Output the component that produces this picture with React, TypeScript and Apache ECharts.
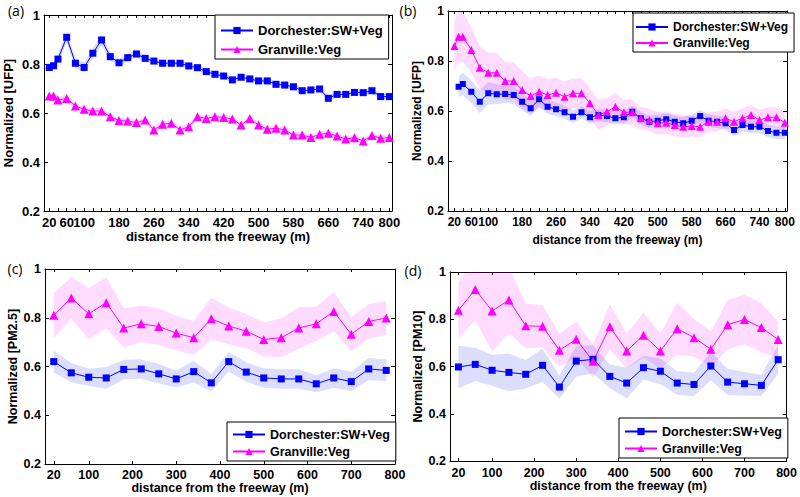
import React, { useEffect, useRef } from 'react';
import * as echarts from 'echarts';

// ---------- data ----------
const distAB = [20, 30, 40, 60, 80, 100, 120, 140, 160, 180, 200, 220, 240, 260, 280, 300, 320, 340, 360, 380, 400, 420, 440, 460, 480, 500, 520, 540, 560, 580, 600, 620, 640, 660, 680, 700, 720, 740, 760, 780, 800];
const distBBlue = [30, 40, 60, 80, 100, 120, 140, 160, 180, 200, 220, 240, 260, 280, 300, 320, 340, 360, 380, 400, 420, 440, 460, 480, 500, 520, 540, 560, 580, 600, 620, 640, 660, 680, 700, 720, 740, 760, 780, 800];
const distCD = [20, 60, 100, 140, 180, 220, 260, 300, 340, 380, 420, 460, 500, 540, 580, 620, 660, 700, 740, 780];

const tickValuesAB = [20, 40, 60, 80, 100, 120, 140, 160, 180, 200, 220, 240, 260, 280, 300, 320, 340, 360, 380, 400, 420, 440, 460, 480, 500, 520, 540, 560, 580, 600, 620, 640, 660, 680, 700, 720, 740, 760, 780, 800];
const labelValuesAB = [20, 60, 100, 180, 260, 340, 420, 500, 580, 660, 740, 800];
const labelValuesCD = [20, 100, 200, 300, 400, 500, 600, 700, 800];

// (a) UFP, Dorchester & Granville
const aBlue = [0.786, 0.793, 0.82, 0.909, 0.803, 0.786, 0.844, 0.898, 0.83, 0.805, 0.826, 0.841, 0.823, 0.812, 0.803, 0.803, 0.803, 0.792, 0.785, 0.769, 0.758, 0.751, 0.735, 0.746, 0.739, 0.731, 0.731, 0.717, 0.714, 0.707, 0.691, 0.694, 0.698, 0.66, 0.676, 0.676, 0.684, 0.683, 0.691, 0.667, 0.667];
const aBlueErr = [0.015, 0.015, 0.018, 0.022, 0.02, 0.02, 0.02, 0.022, 0.018, 0.015, 0.015, 0.015, 0.014, 0.013, 0.012, 0.012, 0.012, 0.012, 0.012, 0.012, 0.012, 0.012, 0.012, 0.012, 0.012, 0.012, 0.012, 0.012, 0.012, 0.012, 0.012, 0.012, 0.012, 0.012, 0.012, 0.012, 0.012, 0.012, 0.012, 0.012, 0.012];
const aPink = [0.669, 0.669, 0.653, 0.659, 0.629, 0.615, 0.608, 0.608, 0.585, 0.569, 0.567, 0.561, 0.571, 0.531, 0.554, 0.558, 0.531, 0.544, 0.585, 0.578, 0.585, 0.582, 0.576, 0.551, 0.578, 0.551, 0.534, 0.538, 0.531, 0.51, 0.51, 0.5, 0.513, 0.517, 0.506, 0.494, 0.499, 0.486, 0.508, 0.497, 0.5];
const aPinkErr = [0.015, 0.015, 0.014, 0.014, 0.013, 0.012, 0.012, 0.012, 0.012, 0.012, 0.012, 0.012, 0.012, 0.012, 0.012, 0.012, 0.012, 0.012, 0.012, 0.012, 0.012, 0.012, 0.012, 0.012, 0.012, 0.012, 0.012, 0.012, 0.012, 0.012, 0.012, 0.012, 0.012, 0.012, 0.012, 0.012, 0.012, 0.012, 0.012, 0.012, 0.012];

// (b) UFP
const bBlue = [0.697, 0.708, 0.677, 0.637, 0.671, 0.667, 0.668, 0.664, 0.637, 0.611, 0.647, 0.617, 0.607, 0.595, 0.577, 0.595, 0.575, 0.584, 0.58, 0.571, 0.575, 0.597, 0.571, 0.557, 0.561, 0.567, 0.557, 0.551, 0.561, 0.58, 0.561, 0.557, 0.551, 0.524, 0.544, 0.537, 0.537, 0.52, 0.513, 0.513];
const bBlueErr = [0.04, 0.045, 0.045, 0.045, 0.045, 0.04, 0.035, 0.035, 0.035, 0.03, 0.03, 0.028, 0.028, 0.027, 0.025, 0.025, 0.025, 0.025, 0.025, 0.025, 0.025, 0.025, 0.025, 0.025, 0.025, 0.025, 0.025, 0.025, 0.025, 0.025, 0.025, 0.025, 0.025, 0.025, 0.025, 0.025, 0.025, 0.025, 0.025, 0.025];
const bPink = [0.86, 0.897, 0.897, 0.844, 0.773, 0.753, 0.753, 0.72, 0.72, 0.684, 0.66, 0.677, 0.664, 0.673, 0.657, 0.671, 0.671, 0.631, 0.584, 0.597, 0.617, 0.595, 0.595, 0.571, 0.564, 0.551, 0.553, 0.544, 0.537, 0.54, 0.537, 0.557, 0.557, 0.571, 0.557, 0.571, 0.584, 0.564, 0.575, 0.575, 0.553];
const bPinkErr = [0.1, 0.1, 0.1, 0.09, 0.085, 0.08, 0.08, 0.075, 0.075, 0.075, 0.07, 0.065, 0.065, 0.06, 0.06, 0.06, 0.06, 0.06, 0.06, 0.055, 0.055, 0.05, 0.05, 0.045, 0.045, 0.045, 0.045, 0.045, 0.045, 0.042, 0.042, 0.04, 0.04, 0.04, 0.04, 0.04, 0.04, 0.04, 0.04, 0.04, 0.04];

// (c) PM2.5
const cBlue = [0.62, 0.574, 0.556, 0.553, 0.588, 0.59, 0.57, 0.549, 0.579, 0.533, 0.62, 0.577, 0.553, 0.549, 0.549, 0.529, 0.553, 0.538, 0.59, 0.584];
const cBlueErr = [0.045, 0.04, 0.035, 0.045, 0.04, 0.04, 0.04, 0.035, 0.045, 0.035, 0.04, 0.04, 0.04, 0.04, 0.04, 0.035, 0.04, 0.04, 0.045, 0.045];
const cPink = [0.81, 0.881, 0.816, 0.862, 0.758, 0.775, 0.764, 0.737, 0.718, 0.796, 0.766, 0.745, 0.711, 0.718, 0.758, 0.775, 0.826, 0.732, 0.785, 0.799];
const cPinkErr = [0.093, 0.085, 0.105, 0.105, 0.08, 0.075, 0.075, 0.07, 0.07, 0.085, 0.075, 0.07, 0.07, 0.08, 0.085, 0.07, 0.08, 0.07, 0.07, 0.07];

// (d) PM10
const dBlue = [0.598, 0.609, 0.584, 0.575, 0.567, 0.605, 0.513, 0.623, 0.63, 0.558, 0.53, 0.595, 0.58, 0.53, 0.524, 0.602, 0.534, 0.527, 0.52, 0.629];
const dBlueErr = [0.09, 0.07, 0.065, 0.08, 0.06, 0.07, 0.05, 0.065, 0.06, 0.05, 0.065, 0.05, 0.055, 0.05, 0.05, 0.06, 0.055, 0.05, 0.045, 0.06];
const dPink = [0.838, 0.926, 0.835, 0.881, 0.772, 0.77, 0.669, 0.715, 0.622, 0.768, 0.666, 0.732, 0.666, 0.76, 0.722, 0.673, 0.777, 0.799, 0.765, 0.714];
const dPinkErr = [0.12, 0.13, 0.17, 0.14, 0.095, 0.09, 0.07, 0.075, 0.07, 0.095, 0.075, 0.095, 0.075, 0.11, 0.08, 0.075, 0.105, 0.105, 0.105, 0.075];

const NAME_BLUE = 'Dorchester:SW+Veg';
const NAME_PINK = 'Granville:Veg';
const XNAME = 'distance from the freeway (m)';
const YNAMES = ['Normalized [UFP]', 'Normalized [UFP]', 'Normalized [PM2.5]', 'Normalized [PM10]'];
const PANEL_LABELS = ['(a)', '(b)', '(c)', '(d)'];

// ---------- styling ----------
const FONT = '"Liberation Sans", Arial, sans-serif';
const BLUE = '#0000ff';
const PINK = '#ff00ff';
const BLUE_BAND = 'rgba(40,60,235,0.17)';
const PINK_BAND = 'rgba(255,0,255,0.14)';

type PanelCfg = {
  grid: { left: number; top: number; width: number; height: number };
  xmin: number; xmax: number;
  ticks: number[]; labels: number[];
  fs: number; xNameGap: number; yNameGap: number; labelMargin: number;
  legend: { left: number; top: number; gap: number; padding: number[]; fs: number };
};

const panels: PanelCfg[] = [
  { grid: { left: 44, top: 15, width: 348, height: 196 }, xmin: 8, xmax: 806, ticks: tickValuesAB, labels: labelValuesAB, fs: 13, xNameGap: 18, yNameGap: 29, labelMargin: 5,
    legend: { left: 215, top: 15, gap: 5, padding: [9, 6, 3, 5], fs: 13 } },
  { grid: { left: 448, top: 11, width: 339, height: 200 }, xmin: 5, xmax: 805, ticks: tickValuesAB, labels: labelValuesAB, fs: 12, xNameGap: 23, yNameGap: 22, labelMargin: 5,
    legend: { left: 633, top: 13, gap: 3, padding: [8, 6, 3, 2], fs: 12 } },
  { grid: { left: 45, top: 269, width: 350, height: 195 }, xmin: 0, xmax: 800, ticks: labelValuesCD, labels: labelValuesCD, fs: 12.5, xNameGap: 16, yNameGap: 26, labelMargin: 4,
    legend: { left: 227, top: 422, gap: 3, padding: [6, 6, 3, 5], fs: 12.5 } },
  { grid: { left: 450, top: 272, width: 339, height: 189 }, xmin: 0, xmax: 800, ticks: labelValuesCD, labels: labelValuesCD, fs: 12.5, xNameGap: 16, yNameGap: 25, labelMargin: 5,
    legend: { left: 619, top: 418, gap: 3, padding: [7, 6, 3, 5], fs: 12.5 } },
];

const seriesData = [
  { bx: distAB, by: aBlue, be: aBlueErr, px: distAB, py: aPink, pe: aPinkErr },
  { bx: distBBlue, by: bBlue, be: bBlueErr, px: distAB, py: bPink, pe: bPinkErr },
  { bx: distCD, by: cBlue, be: cBlueErr, px: distCD, py: cPink, pe: cPinkErr },
  { bx: distCD, by: dBlue, be: dBlueErr, px: distCD, py: dPink, pe: dPinkErr },
];

function bandSeries(xs: number[], ys: number[], errs: number[], gi: number, color: string) {
  return {
    type: 'custom',
    xAxisIndex: 2 * gi,
    yAxisIndex: 2 * gi,
    silent: true,
    z: 1,
    data: xs.map((x, i) => [x, ys[i]]),
    encode: { x: 0, y: 1 },
    renderItem: (params: any, api: any) => {
      if (params.dataIndex !== 0) return null;
      const upper = xs.map((x, i) => api.coord([x, ys[i] + errs[i]]));
      const lower = xs.map((x, i) => api.coord([x, ys[i] - errs[i]])).reverse();
      const cs = params.coordSys;
      return {
        type: 'polygon',
        shape: { points: upper.concat(lower) },
        style: { fill: color },
        clipPath: { type: 'rect', shape: { x: cs.x, y: cs.y, width: cs.width, height: cs.height } },
      };
    },
  };
}

function lineSeries(name: string, xs: number[], ys: number[], gi: number, color: string, symbol: string, size: number) {
  return {
    type: 'line',
    name,
    xAxisIndex: 2 * gi,
    yAxisIndex: 2 * gi,
    data: xs.map((x, i) => [x, ys[i]]),
    symbol,
    symbolSize: size,
    showAllSymbol: true,
    lineStyle: { color, width: 1 },
    itemStyle: { color, borderWidth: 0 },
    z: 3,
  };
}

function buildOption() {
  const grid: any[] = [];
  const xAxis: any[] = [];
  const yAxis: any[] = [];
  const series: any[] = [];
  const legend: any[] = [];
  const graphic: any[] = [];
  const axisLine = { show: true, onZero: false, lineStyle: { color: '#000', width: 1 } };

  panels.forEach((p, gi) => {
    grid.push({ ...p.grid, containLabel: false });
    const labelStyle = { fontFamily: FONT, fontWeight: 'bold', fontSize: p.fs, color: '#000' };
    xAxis.push({
      type: 'value', gridIndex: gi, min: p.xmin, max: p.xmax, position: 'bottom',
      axisLine, splitLine: { show: false },
      axisTick: { show: true, inside: true, length: 3, customValues: p.ticks, lineStyle: { color: '#000' } },
      axisLabel: { ...labelStyle, margin: p.labelMargin, customValues: p.labels },
      name: XNAME, nameLocation: 'middle', nameGap: p.xNameGap, nameTextStyle: labelStyle,
    });
    xAxis.push({
      type: 'value', gridIndex: gi, min: p.xmin, max: p.xmax, position: 'top',
      axisLine, splitLine: { show: false },
      axisTick: { show: true, inside: true, length: 3, customValues: p.ticks, lineStyle: { color: '#000' } },
      axisLabel: { show: false },
    });
    yAxis.push({
      type: 'value', gridIndex: gi, min: 0.2, max: 1, interval: 0.2, position: 'left',
      axisLine, splitLine: { show: false },
      axisTick: { show: true, inside: true, length: 4, lineStyle: { color: '#000' } },
      axisLabel: { ...labelStyle, margin: 4 },
      name: YNAMES[gi], nameLocation: 'middle', nameGap: p.yNameGap, nameTextStyle: labelStyle,
    });
    yAxis.push({
      type: 'value', gridIndex: gi, min: 0.2, max: 1, interval: 0.2, position: 'right',
      axisLine, splitLine: { show: false },
      axisTick: { show: true, inside: true, length: 4, lineStyle: { color: '#000' } },
      axisLabel: { show: false },
    });

    const d = seriesData[gi];
    series.push(bandSeries(d.bx, d.by, d.be, gi, BLUE_BAND));
    series.push(bandSeries(d.px, d.py, d.pe, gi, PINK_BAND));
    series.push(lineSeries(NAME_BLUE, d.bx, d.by, gi, BLUE, 'rect', gi === 1 ? 6 : 7));
    series.push(lineSeries(NAME_PINK, d.px, d.py, gi, PINK, 'triangle', gi === 1 ? 8 : 9));

    legend.push({
      show: true,
      orient: 'vertical',
      left: p.legend.left,
      top: p.legend.top,
      data: [NAME_BLUE, NAME_PINK],
      itemWidth: 32,
      itemHeight: 9,
      itemGap: p.legend.gap + 1,
      padding: p.legend.padding,
      borderColor: '#000',
      borderWidth: 1,
      borderRadius: 0,
      backgroundColor: '#fff',
      selectedMode: false,
      textStyle: { fontFamily: FONT, fontWeight: 'bold', fontSize: p.legend.fs, color: '#000', padding: [0, 0, 0, 0] },
      z: 10,
    });
  });

  const labelPos = [[16, 10], [408, 10], [15, 268], [413, 270]];
  PANEL_LABELS.forEach((t, i) => {
    graphic.push({
      type: 'text', x: labelPos[i][0], y: labelPos[i][1],
      style: { text: t, font: '14px "Open Sans", "DejaVu Sans", sans-serif', fill: '#000', align: 'center', verticalAlign: 'middle' },
    });
  });

  return { animation: false, backgroundColor: '#fff', grid, xAxis, yAxis, series, legend, graphic };
}

export default function App() {
  const ref = useRef<HTMLDivElement>(null);
  useEffect(() => {
    if (!ref.current) return;
    const chart = echarts.init(ref.current, undefined, { renderer: 'svg' });
    chart.setOption(buildOption() as any);
    return () => chart.dispose();
  }, []);
  return <div ref={ref} style={{ position: 'fixed', left: 0, top: 0, width: 800, height: 497, background: '#fff' }} />;
}
